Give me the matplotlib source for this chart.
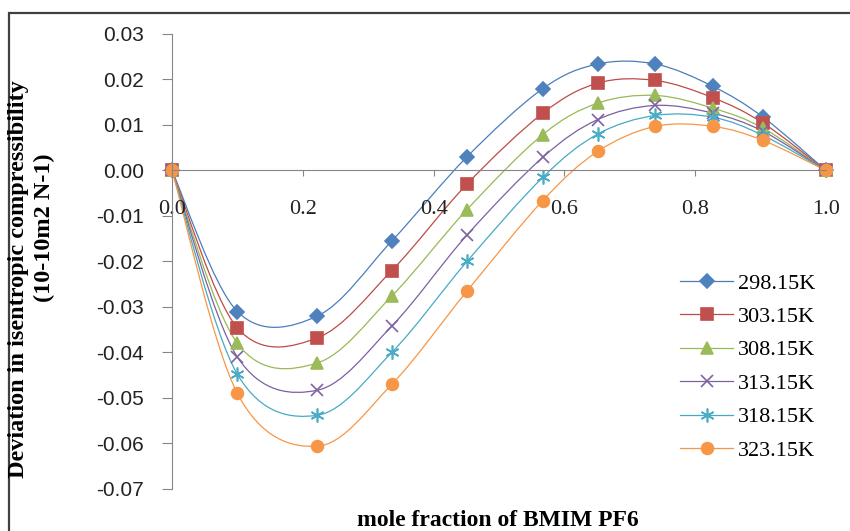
import numpy as np
import matplotlib
matplotlib.use("Agg")
import matplotlib.pyplot as plt
from matplotlib.path import Path
from matplotlib.patches import PathPatch, Rectangle
from matplotlib.lines import Line2D
from matplotlib.ticker import MultipleLocator, FormatStrFormatter

plt.rcParams['axes.unicode_minus'] = False

# mole fraction of BMIM PF6
mole_frac = [0.0, 0.100, 0.222, 0.336, 0.451, 0.567, 0.651, 0.739, 0.827, 0.904, 1.0]

# deviation in isentropic compressibility, one list per temperature
k298 = [0.0, -0.0310, -0.0320, -0.0155, 0.0030, 0.0180, 0.0234, 0.0234, 0.0185, 0.0117, 0.0]
k303 = [0.0, -0.0346, -0.0368, -0.0220, -0.0030, 0.0126, 0.0192, 0.0198, 0.0160, 0.0104, 0.0]
k308 = [0.0, -0.0380, -0.0423, -0.0276, -0.0086, 0.0079, 0.0148, 0.0165, 0.0137, 0.0093, 0.0]
k313 = [0.0, -0.0410, -0.0483, -0.0342, -0.0142, 0.0029, 0.0112, 0.0143, 0.0126, 0.0086, 0.0]
k318 = [0.0, -0.0448, -0.0538, -0.0400, -0.0200, -0.0015, 0.0080, 0.0121, 0.0117, 0.0077, 0.0]
k323 = [0.0, -0.0490, -0.0606, -0.0470, -0.0265, -0.0066, 0.0042, 0.0097, 0.0097, 0.0066, 0.0]

labels = ["298.15K", "303.15K", "308.15K", "313.15K", "318.15K", "323.15K"]
series = [k298, k303, k308, k313, k318, k323]

line_cols = ["#4a7ebb", "#be4b48", "#98b954", "#7d60a0", "#46aac5", "#f79646"]
mark_cols = ["#4f81bd", "#c0504d", "#9bbb59", "#8064a2", "#4bacc6", "#f79646"]
markers = ["D", "s", "^", "x", (6, 2, 0), "o"]
msizes = [7, 8, 8.5, 9, 10, 8.5]


def smooth_path(x, y):
    # excel style smoothed line (bezier through the points)
    pts = np.column_stack([x, y])
    n = len(pts)
    verts = [pts[0]]
    codes = [Path.MOVETO]
    for i in range(n - 1):
        p0 = pts[max(i - 1, 0)]
        p1 = pts[i]
        p2 = pts[i + 1]
        p3 = pts[min(i + 2, n - 1)]
        verts += [p1 + (p2 - p0) / 6, p2 - (p3 - p1) / 6, p2]
        codes += [Path.CURVE4] * 3
    return Path(verts, codes)


fig = plt.figure(figsize=(8.5, 5.31), dpi=100)
ax = fig.add_axes([172 / 850, 1 - 489 / 531, 654 / 850, 455 / 531])

handles = []
for ys, lab, lc, mc, mk, ms in zip(series, labels, line_cols, mark_cols, markers, msizes):
    ax.add_patch(PathPatch(smooth_path(mole_frac, ys), fill=False, edgecolor=lc, lw=0.9))
    ax.plot(mole_frac, ys, linestyle="none", marker=mk, ms=ms, color=mc,
            mec=mc, mew=1.2, clip_on=False)
    handles.append(Line2D([], [], color=lc, lw=0.9, marker=mk, ms=ms, mfc=mc,
                          mec=mc, mew=1.2, label=lab))

ax.set_xlim(0, 1.0)
ax.set_ylim(-0.07, 0.03)

gray = "#868686"
for s in ["top", "right"]:
    ax.spines[s].set_visible(False)
ax.spines["bottom"].set_position(("data", 0))
ax.spines["bottom"].set_color(gray)
ax.spines["left"].set_color(gray)

ax.xaxis.set_major_locator(MultipleLocator(0.2))
ax.xaxis.set_major_formatter(FormatStrFormatter("%.1f"))
ax.yaxis.set_major_locator(MultipleLocator(0.01))
ax.yaxis.set_major_formatter(FormatStrFormatter("%.2f"))

ax.tick_params(axis="x", direction="out", length=4, color=gray, pad=17,
               labelsize=16, labelcolor="#222222")
ax.tick_params(axis="y", direction="out", length=7, color=gray, pad=13,
               labelsize=15, labelcolor="#222222")
for t in ax.get_xticklabels():
    t.set_family("Liberation Serif")
for t in ax.get_yticklabels():
    t.set_family("Liberation Sans")

leg = fig.legend(handles=handles, loc="upper left",
                 bbox_to_anchor=(680 / 850, 1 - 273 / 531), frameon=False,
                 prop={"family": "Liberation Serif", "size": 16},
                 handlelength=2.4, handletextpad=0.2, labelspacing=0.58,
                 borderpad=0, borderaxespad=0)

fig.text(498 / 850, 1 - 520 / 531, "mole fraction of BMIM PF6", ha="center",
         va="center", family="Liberation Serif", weight="bold", size=17)
fig.text(19 / 850, 1 - 279 / 531, "Deviation in isentropic compressibility",
         rotation=90, ha="center", va="center", family="Liberation Serif",
         weight="bold", size=17.5)
fig.text(44 / 850, 1 - 228 / 531, "(10-10m2 N-1)", rotation=90, ha="center",
         va="center", family="Liberation Serif", weight="bold", size=17.5)

# chart area border
fig.add_artist(Rectangle((9 / 850, -0.2), 1.2, 1.2 - 13 / 531, fill=False,
                         edgecolor="#404040", lw=1.6, transform=fig.transFigure))

fig.savefig("out.png", dpi=100)
